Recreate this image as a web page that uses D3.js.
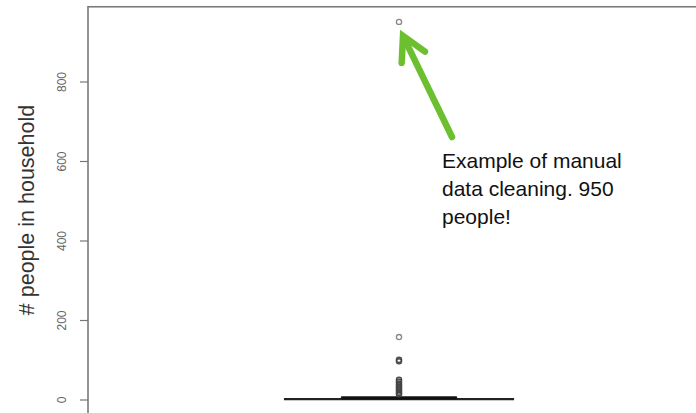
<!DOCTYPE html>
<html>
<head>
<meta charset="utf-8">
<script src="https://cdn.jsdelivr.net/npm/d3@7"></script>
<style>
  html, body { margin: 0; padding: 0; background: #fff; }
  svg { display: block; }
</style>
</head>
<body>
<svg id="chart" width="696" height="413"></svg>
<script>
// Household size box plot (one group)
const yTicks = [0, 200, 400, 600, 800];
const boxStats = { q1: 3, median: 4, q3: 6, lowWhisker: 1, highWhisker: 10 };
const outliers = [950, 157, 100, 96, 50, 45, 40, 36, 32, 28, 24, 20, 16, 13];
const axisTitle = "# people in household";
const noteLines = ["Example of manual", "data cleaning. 950", "people!"];
const noteValue = 950;

const svg = d3.select("#chart");

const y = d3.scaleLinear().domain([0, 800]).range([399.5, 81.5]);
const x = d3.scaleLinear().domain([0.5, 1.5]).range([88, 710]);

const frameTop = y(988), frameBottom = y(-38);

// plot frame
svg.append("rect")
  .attr("x", x(0.5)).attr("y", frameTop)
  .attr("width", x(1.5) - x(0.5)).attr("height", frameBottom - frameTop)
  .attr("fill", "none").attr("stroke", "#7a7a7a").attr("stroke-width", 1.6);

// y axis
const axis = d3.axisLeft(y).tickValues(yTicks).tickSize(8).tickSizeOuter(0);
const gAxis = svg.append("g").attr("transform", `translate(${x(0.5)},0)`).call(axis);
gAxis.select(".domain").remove();
gAxis.selectAll(".tick line").attr("stroke", "#777").attr("stroke-width", 1.2);
gAxis.selectAll(".tick text")
  .attr("x", 0).attr("dy", 0)
  .attr("transform", "translate(-26,0) rotate(-90)")
  .attr("text-anchor", "middle")
  .attr("dominant-baseline", "central")
  .attr("fill", "#666")
  .style("font-family", "Liberation Sans, Arial, sans-serif")
  .style("font-size", "12px");

// axis title
svg.append("text")
  .attr("transform", "translate(27,210) rotate(-90)")
  .attr("text-anchor", "middle")
  .attr("dominant-baseline", "central")
  .attr("fill", "#333")
  .style("font-family", "Liberation Sans, Arial, sans-serif")
  .style("font-size", "21.5px")
  .text(axisTitle);

// whisker / staple line
svg.append("line")
  .attr("x1", x(1 - 0.185)).attr("x2", x(1 + 0.185))
  .attr("y1", y(boxStats.lowWhisker)).attr("y2", y(boxStats.lowWhisker))
  .attr("stroke", "#222").attr("stroke-width", 2.2);

// compressed box
svg.append("rect")
  .attr("x", x(1 - 0.0925)).attr("y", y(boxStats.q3))
  .attr("width", x(1 + 0.0925) - x(1 - 0.0925))
  .attr("height", y(boxStats.q1) - y(boxStats.q3))
  .attr("fill", "#222").attr("stroke", "#222").attr("stroke-width", 1.2);

// median
svg.append("line")
  .attr("x1", x(1 - 0.0925)).attr("x2", x(1 + 0.0925))
  .attr("y1", y(boxStats.median)).attr("y2", y(boxStats.median))
  .attr("stroke", "#111").attr("stroke-width", 3);

// upper whisker
svg.append("line")
  .attr("x1", x(1)).attr("x2", x(1))
  .attr("y1", y(boxStats.q3)).attr("y2", y(boxStats.highWhisker))
  .attr("stroke", "#222").attr("stroke-width", 1.5);

// outliers
svg.selectAll("circle.out").data(outliers).join("circle")
  .attr("class", "out")
  .attr("cx", x(1)).attr("cy", d => y(d)).attr("r", 2.6)
  .attr("fill", "none")
  .attr("stroke", d => d > 120 ? "#888" : "#444")
  .attr("stroke-width", 1.3);

// annotation arrow
const tip = [x(1) + 4, y(noteValue) + 14];
const tail = [452, 137];
const ang = Math.atan2(tail[1] - tip[1], tail[0] - tip[0]);
const headLen = 27, headSpread = 0.5;
const wing = s => [tip[0] + headLen * Math.cos(ang + s * headSpread), tip[1] + headLen * Math.sin(ang + s * headSpread)];
const green = "#6cbf2f";
svg.append("line")
  .attr("x1", tail[0]).attr("y1", tail[1]).attr("x2", tip[0] + 3 * Math.cos(ang)).attr("y2", tip[1] + 3 * Math.sin(ang))
  .attr("stroke", green).attr("stroke-width", 6.5).attr("stroke-linecap", "round");
svg.append("polyline")
  .attr("points", [wing(1), tip, wing(-1)].map(p => p.join(",")).join(" "))
  .attr("fill", "none").attr("stroke", green).attr("stroke-width", 6.5)
  .attr("stroke-linecap", "round").attr("stroke-linejoin", "miter");

// annotation text
const note = svg.append("text")
  .attr("x", 442).attr("y", 168)
  .attr("fill", "#111")
  .style("font-family", "Liberation Sans, Arial, sans-serif")
  .style("font-size", "21px");
note.selectAll("tspan").data(noteLines).join("tspan")
  .attr("x", 442).attr("dy", (d, i) => i === 0 ? 0 : 28)
  .text(d => d);
</script>
</body>
</html>
